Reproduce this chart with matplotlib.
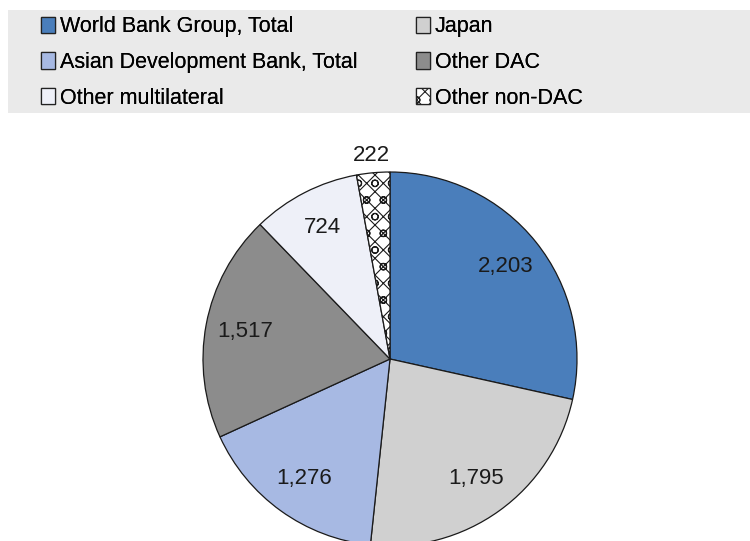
import matplotlib
matplotlib.use("Agg")
import matplotlib.pyplot as plt
from matplotlib.patches import Rectangle, Patch
import numpy as np

categories = ["World Bank Group, Total", "Japan", "Asian Development Bank, Total",
              "Other DAC", "Other multilateral", "Other non-DAC"]
values = [2203, 1795, 1276, 1517, 724, 222]
labels = ["2,203", "1,795", "1,276", "1,517", "724", "222"]
colors = ["#4a7ebb", "#d0d0d0", "#a7b9e3", "#8c8c8c", "#eef0f8", "#ffffff"]
hatches = [None, None, None, None, None, "xxo"]

plt.rcParams["font.family"] = ["Liberation Sans", "DejaVu Sans"]
plt.rcParams["hatch.linewidth"] = 0.8

W, H = 750, 541
fig = plt.figure(figsize=(W / 100, H / 100), dpi=100)

# legend background band
fig.patches.append(Rectangle((8 / W, 1 - 113 / H), 1 - 8 / W, 103 / H,
                             transform=fig.transFigure, facecolor="#eaeaea",
                             edgecolor="none", zorder=0))

cx, cy, r = 390, 359, 187
ax = fig.add_axes([(cx - r) / W, (H - cy - r) / H, 2 * r / W, 2 * r / H])
wedges, _ = ax.pie(values, colors=colors, startangle=90, counterclock=False,
                   wedgeprops=dict(edgecolor="#1a1a1a", linewidth=0.9))
for w, h in zip(wedges, hatches):
    if h:
        w.set_hatch(h)
ax.set_xlim(-1, 1)
ax.set_ylim(-1, 1)
ax.set_aspect("equal")
ax.axis("off")

total = sum(values)
for w, lab, v in zip(wedges, labels, values):
    ang = np.deg2rad((w.theta1 + w.theta2) / 2)
    d = 1.09 if v / total < 0.05 else 0.79
    ax.text(d * np.cos(ang), d * np.sin(ang), lab, ha="center", va="center",
            fontsize=16, color="#1a1a1a", clip_on=False)

handles = [Patch(facecolor=c, edgecolor="#222222", hatch=h, linewidth=0.9)
           for c, h in zip(colors, hatches)]
columns = [([0, 2, 4], 37), ([1, 3, 5], 412)]
for idx, xpx in columns:
    leg = fig.legend([handles[i] for i in idx], [categories[i] for i in idx],
                     ncol=1, loc="upper left", bbox_to_anchor=(xpx / W, 1 - 12 / H),
                     frameon=False, fontsize=15.5, handlelength=0.65, handleheight=0.8,
                     handletextpad=0.2, labelspacing=0.68,
                     borderaxespad=0, borderpad=0.2)
    fig.add_artist(leg)

fig.savefig("out.png", dpi=100)
